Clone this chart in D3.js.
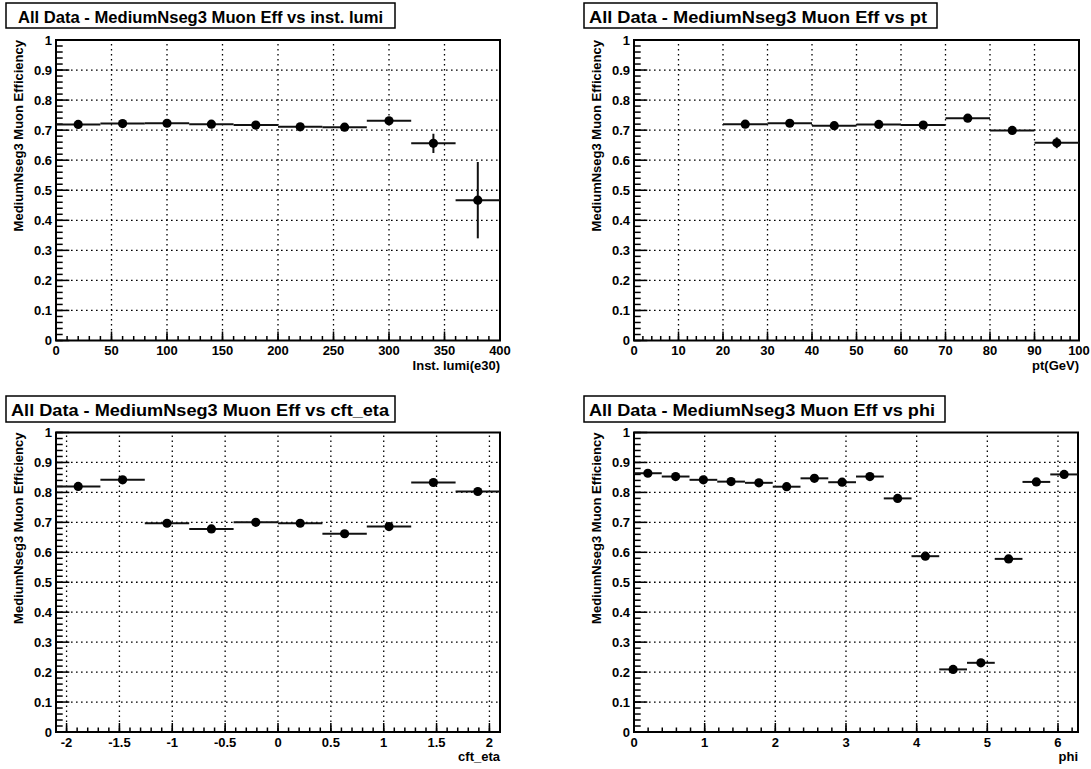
<!DOCTYPE html>
<html>
<head>
<meta charset="utf-8">
<script src="https://cdn.jsdelivr.net/npm/d3@7"></script>
<style>
  body { margin: 0; background: #fff; }
  text { font-family: "Liberation Sans", Arial, Helvetica, sans-serif; font-weight: bold; fill: #000; }
</style>
</head>
<body>
<svg id="chart" width="1091" height="769"></svg>
<script>
// ---- efficiency vs instantaneous luminosity (bins of 40e30) ----
const lumiCenters = [20, 60, 100, 140, 180, 220, 260, 300, 340, 380];
const lumiEff     = [0.719, 0.722, 0.723, 0.720, 0.717, 0.711, 0.710, 0.731, 0.656, 0.467];
const lumiErr     = [0.005, 0.005, 0.005, 0.005, 0.005, 0.006, 0.007, 0.010, 0.032, 0.127];
const lumiTicks   = [0, 50, 100, 150, 200, 250, 300, 350, 400];
const lumiLabels  = ["0", "50", "100", "150", "200", "250", "300", "350", "400"];

// ---- efficiency vs pt (bins of 10 GeV) ----
const ptCenters = [25, 35, 45, 55, 65, 75, 85, 95];
const ptEff     = [0.720, 0.723, 0.715, 0.719, 0.717, 0.740, 0.699, 0.658];
const ptErr     = [0.004, 0.005, 0.005, 0.006, 0.007, 0.008, 0.010, 0.018];
const ptTicks   = [0, 10, 20, 30, 40, 50, 60, 70, 80, 90, 100];
const ptLabels  = ["0", "10", "20", "30", "40", "50", "60", "70", "80", "90", "100"];

// ---- efficiency vs cft_eta (bins of 0.42) ----
const etaCenters = [-1.89, -1.47, -1.05, -0.63, -0.21, 0.21, 0.63, 1.05, 1.47, 1.89];
const etaEff     = [0.820, 0.842, 0.697, 0.678, 0.700, 0.697, 0.662, 0.686, 0.833, 0.803];
const etaErr     = [0.005, 0.005, 0.004, 0.004, 0.004, 0.004, 0.004, 0.004, 0.005, 0.005];
const etaTicks   = [-2, -1.5, -1, -0.5, 0, 0.5, 1, 1.5, 2];
const etaLabels  = ["-2", "-1.5", "-1", "-0.5", "0", "0.5", "1", "1.5", "2"];

// ---- efficiency vs phi (16 bins over 0..2pi) ----
const phiCenters = [0.196, 0.589, 0.982, 1.374, 1.767, 2.160, 2.553, 2.945,
                    3.338, 3.731, 4.123, 4.516, 4.909, 5.301, 5.694, 6.087];
const phiEff     = [0.864, 0.853, 0.842, 0.836, 0.832, 0.819, 0.847, 0.834,
                    0.853, 0.780, 0.587, 0.209, 0.231, 0.578, 0.835, 0.860];
const phiErr     = [0.004, 0.004, 0.004, 0.004, 0.004, 0.004, 0.004, 0.004,
                    0.004, 0.005, 0.006, 0.006, 0.006, 0.006, 0.004, 0.004];
const phiTicks   = [0, 1, 2, 3, 4, 5, 6];
const phiLabels  = ["0", "1", "2", "3", "4", "5", "6"];

// ---- shared efficiency axis ----
const effTicks  = [0, 0.1, 0.2, 0.3, 0.4, 0.5, 0.6, 0.7, 0.8, 0.9, 1];
const effLabels = ["0", "0.1", "0.2", "0.3", "0.4", "0.5", "0.6", "0.7", "0.8", "0.9", "1"];
const effTitle  = "MediumNseg3 Muon Efficiency";

const panels = [
  { title: "All Data - MediumNseg3 Muon Eff vs inst. lumi", xTitle: "Inst. lumi(e30)",
    box: [6, 3, 395, 28], textX: 18, textLen: 365,
    frame: [56, 40, 500, 340.5], domain: [0, 400], binW: 40, minorStep: 10,
    centers: lumiCenters, eff: lumiEff, err: lumiErr, ticks: lumiTicks, labels: lumiLabels },
  { title: "All Data - MediumNseg3 Muon Eff vs pt", xTitle: "pt(GeV)",
    box: [584, 3, 937, 28], textX: 589, textLen: 338,
    frame: [634, 40, 1079, 340.5], domain: [0, 100], binW: 10, minorStep: 2,
    centers: ptCenters, eff: ptEff, err: ptErr, ticks: ptTicks, labels: ptLabels },
  { title: "All Data - MediumNseg3 Muon Eff vs cft_eta", xTitle: "cft_eta",
    box: [6, 396, 395, 422], textX: 11, textLen: 378,
    frame: [56, 432.5, 500, 732], domain: [-2.1, 2.1], binW: 0.42, minorStep: 0.1,
    centers: etaCenters, eff: etaEff, err: etaErr, ticks: etaTicks, labels: etaLabels },
  { title: "All Data - MediumNseg3 Muon Eff vs phi", xTitle: "phi",
    box: [584, 396, 945, 422], textX: 589, textLen: 346,
    frame: [634, 432.5, 1078, 732], domain: [0, 2 * Math.PI], binW: Math.PI / 8, minorStep: 0.2,
    centers: phiCenters, eff: phiEff, err: phiErr, ticks: phiTicks, labels: phiLabels }
];

const svg = d3.select("#chart");

panels.forEach(p => {
  const [fx0, fy0, fx1, fy1] = p.frame;
  const x = d3.scaleLinear().domain(p.domain).range([fx0, fx1]);
  const y = d3.scaleLinear().domain([0, 1]).range([fy1, fy0]);
  const g = svg.append("g");

  // dotted grid on the major divisions
  const gx = p.ticks.filter(v => Math.abs(x(v) - fx0) > 1 && Math.abs(x(v) - fx1) > 1);
  const gy = effTicks.filter(v => v > 0 && v < 1);
  g.selectAll(".vgrid").data(gx).join("line")
    .attr("x1", d => x(d)).attr("x2", d => x(d))
    .attr("y1", fy1).attr("y2", fy0)
    .attr("stroke", "#000").attr("stroke-width", 1.3).attr("stroke-dasharray", "1.6,3.4");
  g.selectAll(".hgrid").data(gy).join("line")
    .attr("x1", fx0).attr("x2", fx1)
    .attr("y1", d => y(d)).attr("y2", d => y(d))
    .attr("stroke", "#000").attr("stroke-width", 1.3).attr("stroke-dasharray", "1.6,3.4");

  // minor and major ticks drawn inside the frame
  const yMinor = d3.range(0, 1.0001, 0.02);
  g.selectAll(".ymin").data(yMinor).join("line")
    .attr("x1", fx0).attr("x2", fx0 + 6.7)
    .attr("y1", d => y(d)).attr("y2", d => y(d))
    .attr("stroke", "#000").attr("stroke-width", 1.5);
  g.selectAll(".ymaj").data(effTicks).join("line")
    .attr("x1", fx0).attr("x2", fx0 + 13.3)
    .attr("y1", d => y(d)).attr("y2", d => y(d))
    .attr("stroke", "#000").attr("stroke-width", 1.5);

  const t0 = Math.ceil((p.domain[0] - 1e-9) / p.minorStep);
  const t1 = Math.floor((p.domain[1] + 1e-9) / p.minorStep);
  const xMinor = d3.range(t0, t1 + 1).map(k => k * p.minorStep);
  g.selectAll(".xmin").data(xMinor).join("line")
    .attr("x1", d => x(d)).attr("x2", d => x(d))
    .attr("y1", fy1).attr("y2", fy1 - 4.5)
    .attr("stroke", "#000").attr("stroke-width", 1.5);
  g.selectAll(".xmaj").data(p.ticks).join("line")
    .attr("x1", d => x(d)).attr("x2", d => x(d))
    .attr("y1", fy1).attr("y2", fy1 - 9)
    .attr("stroke", "#000").attr("stroke-width", 1.5);

  // frame
  g.append("rect")
    .attr("x", fx0).attr("y", fy0)
    .attr("width", fx1 - fx0).attr("height", fy1 - fy0)
    .attr("fill", "none").attr("stroke", "#000").attr("stroke-width", 2);

  // tick labels
  g.selectAll(".ylab").data(effTicks).join("text")
    .attr("x", fx0 - 4).attr("y", d => y(d)).attr("dy", "0.35em")
    .attr("text-anchor", "end").attr("font-size", 13)
    .text((d, i) => effLabels[i]);
  g.selectAll(".xlab").data(p.ticks).join("text")
    .attr("x", d => x(d)).attr("y", fy1 + 14.5)
    .attr("text-anchor", "middle").attr("font-size", 13)
    .text((d, i) => p.labels[i]);

  // axis titles
  g.append("text")
    .attr("transform", `translate(22.5 + ${fx0 - 56}, ${fy0}) rotate(-90)`)
    .attr("transform", `translate(${fx0 - 33.5},${fy0}) rotate(-90)`)
    .attr("text-anchor", "end").attr("font-size", 13)
    .text(effTitle);
  g.append("text")
    .attr("x", fx1).attr("y", fy1 + 29)
    .attr("text-anchor", "end").attr("font-size", 13)
    .text(p.xTitle);

  // data: bin-width bars, error bars, markers
  const pts = p.centers.map((c, i) => ({ c, v: p.eff[i], e: p.err[i] }));
  g.selectAll(".hbar").data(pts).join("line")
    .attr("x1", d => x(Math.max(p.domain[0], d.c - p.binW / 2)))
    .attr("x2", d => x(Math.min(p.domain[1], d.c + p.binW / 2)))
    .attr("y1", d => y(d.v)).attr("y2", d => y(d.v))
    .attr("stroke", "#111").attr("stroke-width", 2);
  g.selectAll(".vbar").data(pts).join("line")
    .attr("x1", d => x(d.c)).attr("x2", d => x(d.c))
    .attr("y1", d => y(d.v - d.e)).attr("y2", d => y(d.v + d.e))
    .attr("stroke", "#111").attr("stroke-width", 2);
  g.selectAll(".mark").data(pts).join("circle")
    .attr("cx", d => x(d.c)).attr("cy", d => y(d.v)).attr("r", 4.6)
    .attr("fill", "#000");

  // title box
  const [bx0, by0, bx1, by1] = p.box;
  svg.append("rect")
    .attr("x", bx0).attr("y", by0).attr("width", bx1 - bx0).attr("height", by1 - by0)
    .attr("fill", "#fff").attr("stroke", "#000").attr("stroke-width", 1.5);
  svg.append("text")
    .attr("x", p.textX).attr("y", by0 + 19.5)
    .attr("font-size", 16)
    .attr("textLength", p.textLen).attr("lengthAdjust", "spacingAndGlyphs")
    .text(p.title);
});
</script>
</body>
</html>
